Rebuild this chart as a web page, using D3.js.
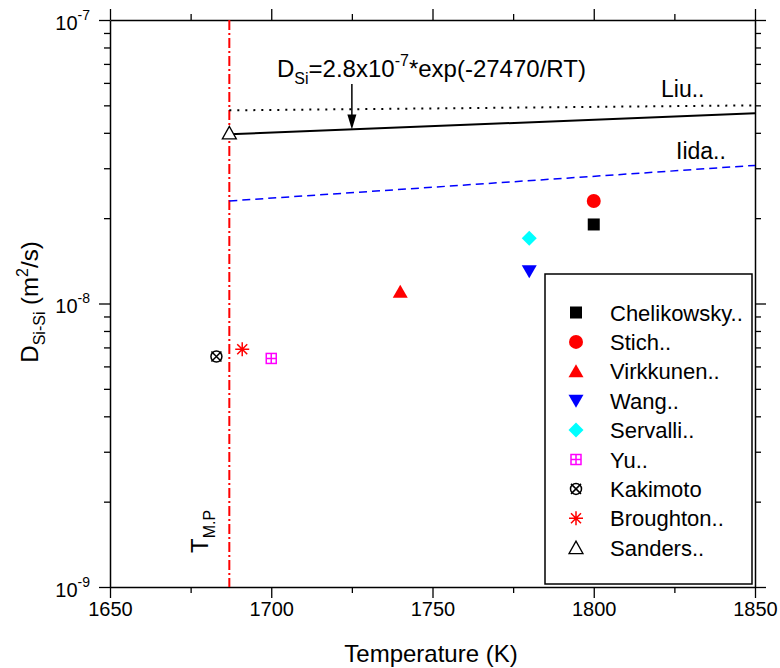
<!DOCTYPE html>
<html><head><meta charset="utf-8">
<script src="https://cdn.jsdelivr.net/npm/d3@7"></script>
<style>body{margin:0;background:#fff;} text{font-family:"Liberation Sans",Arial,sans-serif;}</style>
</head><body>
<svg id="c" width="780" height="668"></svg>
<script>
// ---- data ----
const xTicks = [1650, 1700, 1750, 1800, 1850];
const xMinor = [1675, 1725, 1775, 1825];
const yTicks = [1e-9, 1e-8, 1e-7];
const yTickExp = ["-9", "-8", "-7"];
const seriesNames = ["Chelikowsky..", "Stich..", "Virkkunen..", "Wang..", "Servalli..", "Yu..", "Kakimoto", "Broughton..", "Sanders.."];
const seriesT = [1800, 1800, 1740, 1780, 1780, 1700, 1683, 1691, 1687];
const seriesD = [1.9e-8, 2.3e-8, 1.1e-8, 1.3e-8, 1.7e-8, 6.4e-9, 6.5e-9, 6.9e-9, 4.0e-8];
const seriesSym = ["square", "circle", "triUp", "triDown", "diamond", "boxPlus", "circleX", "asterisk", "triOpen"];
const seriesColor = ["#000000", "#ff0000", "#ff0000", "#0000ff", "#00ffff", "#ff00ff", "#000000", "#ff0000", "#000000"];
const fitT = [1687, 1850];
const fitD = [3.95e-8, 4.69e-8];      // solid: D=2.8e-7 exp(-27470/RT)
const liuD = [4.8e-8, 5.0e-8];        // dotted
const iidaD = [2.3e-8, 3.07e-8];      // blue dashed
const meltT = 1687;
const arrowT = 1725;

// ---- layout ----
const L = 110, R = 755, T = 20, B = 587;
const svg = d3.select("#c");
const x = d3.scaleLinear().domain([1650, 1850]).range([L, R]);
const y = d3.scaleLog().domain([1e-9, 1e-7]).range([B, T]);

const yMinor = [];
[1e-9, 1e-8].forEach(d => { for (let k = 2; k <= 9; k++) yMinor.push(d * k); });

function axisLines(g) { g.selectAll("path.domain").attr("stroke", "#000").attr("stroke-width", 1.5); g.selectAll("line").attr("stroke", "#000").attr("stroke-width", 1.3); }

// bottom
svg.append("g").attr("transform", `translate(0,${B})`)
  .call(d3.axisBottom(x).tickValues(xTicks).tickSize(11).tickSizeOuter(0).tickPadding(4).tickFormat(d3.format("d")))
  .call(axisLines)
  .call(g => g.selectAll("text").attr("font-size", 20).attr("fill", "#000"));
svg.append("g").attr("transform", `translate(0,${B})`)
  .call(d3.axisBottom(x).tickValues(xMinor).tickSize(6).tickSizeOuter(0).tickFormat(""))
  .call(axisLines).call(g => g.select("path.domain").remove());
// top
svg.append("g").attr("transform", `translate(0,${T})`)
  .call(d3.axisTop(x).tickValues(xTicks).tickSize(11).tickSizeOuter(0).tickFormat(""))
  .call(axisLines);
svg.append("g").attr("transform", `translate(0,${T})`)
  .call(d3.axisTop(x).tickValues(xMinor).tickSize(6).tickSizeOuter(0).tickFormat(""))
  .call(axisLines).call(g => g.select("path.domain").remove());
// left
svg.append("g").attr("transform", `translate(${L},0)`)
  .call(d3.axisLeft(y).tickValues(yTicks).tickSize(11).tickSizeOuter(0).tickFormat(""))
  .call(axisLines);
svg.append("g").attr("transform", `translate(${L},0)`)
  .call(d3.axisLeft(y).tickValues(yMinor).tickSize(6).tickSizeOuter(0).tickFormat(""))
  .call(axisLines).call(g => g.select("path.domain").remove());
// right
svg.append("g").attr("transform", `translate(${R},0)`)
  .call(d3.axisRight(y).tickValues(yTicks).tickSize(11).tickSizeOuter(0).tickFormat(""))
  .call(axisLines);
svg.append("g").attr("transform", `translate(${R},0)`)
  .call(d3.axisRight(y).tickValues(yMinor).tickSize(6).tickSizeOuter(0).tickFormat(""))
  .call(axisLines).call(g => g.select("path.domain").remove());

// y tick labels
yTicks.forEach((v, i) => {
  const t = svg.append("text").attr("x", 90).attr("y", y(v) + 9.5).attr("text-anchor", "end").attr("font-size", 20);
  t.append("tspan").text("10");
  t.append("tspan").attr("dy", -10).attr("font-size", 14).text(yTickExp[i]);
});

// axis titles
svg.append("text").attr("x", 431).attr("y", 662).attr("text-anchor", "middle").attr("font-size", 24).text("Temperature (K)");
const yt = svg.append("text").attr("transform", `translate(38,302) rotate(-90)`).attr("text-anchor", "middle").attr("font-size", 24);
yt.append("tspan").text("D");
yt.append("tspan").attr("dy", 7).attr("font-size", 16).text("Si-Si");
yt.append("tspan").attr("dy", -7).text(" (m");
yt.append("tspan").attr("dy", -10).attr("font-size", 16).text("2");
yt.append("tspan").attr("dy", 10).text("/s)");

// melting point line
svg.append("line").attr("x1", x(meltT)).attr("x2", x(meltT)).attr("y1", T).attr("y2", B)
  .attr("stroke", "#ff0000").attr("stroke-width", 2).attr("stroke-dasharray", "10,3,2,3");
const tm = svg.append("text").attr("transform", `translate(${x(meltT) - 21},553) rotate(-90)`).attr("font-size", 24);
tm.append("tspan").text("T");
tm.append("tspan").attr("dy", 7).attr("font-size", 16).text("M.P");

// lines
const line = d3.line().x(d => x(d[0])).y(d => y(d[1]));
svg.append("path").datum(fitT.map((t, i) => [t, liuD[i]])).attr("d", line).attr("fill", "none")
  .attr("stroke", "#000").attr("stroke-width", 2).attr("stroke-dasharray", "2,6");
svg.append("path").datum(fitT.map((t, i) => [t, fitD[i]])).attr("d", line).attr("fill", "none")
  .attr("stroke", "#000").attr("stroke-width", 2);
svg.append("path").datum(fitT.map((t, i) => [t, iidaD[i]])).attr("d", line).attr("fill", "none")
  .attr("stroke", "#0000ff").attr("stroke-width", 1.5).attr("stroke-dasharray", "8,5");

svg.append("text").attr("x", 661).attr("y", 97).attr("font-size", 23).text("Liu..");
svg.append("text").attr("x", 676).attr("y", 159).attr("font-size", 23).text("Iida..");

// equation + arrow
const eq = svg.append("text").attr("x", 277).attr("y", 77).attr("font-size", 24);
eq.append("tspan").text("D");
eq.append("tspan").attr("dy", 7).attr("font-size", 16).text("Si");
eq.append("tspan").attr("dy", -7).text("=2.8x10");
eq.append("tspan").attr("dy", -11).attr("font-size", 16).text("-7");
eq.append("tspan").attr("dy", 11).text("*exp(-27470/RT)");
const ax = x(arrowT);
const yEnd = y(fitD[0] * Math.pow(fitD[1] / fitD[0], (arrowT - fitT[0]) / (fitT[1] - fitT[0])));
svg.append("line").attr("x1", ax).attr("x2", ax).attr("y1", 84).attr("y2", yEnd - 12).attr("stroke", "#000").attr("stroke-width", 1.5);
svg.append("path").attr("d", `M${ax - 4.5},${yEnd - 15}L${ax + 4.5},${yEnd - 15}L${ax},${yEnd}Z`).attr("fill", "#000");

// symbols
function drawSym(g, sym, cx, cy, col) {
  const s = 6;
  if (sym === "square") g.append("rect").attr("x", cx - s).attr("y", cy - s).attr("width", 2 * s).attr("height", 2 * s).attr("fill", col);
  else if (sym === "circle") g.append("circle").attr("cx", cx).attr("cy", cy).attr("r", 7).attr("fill", col);
  else if (sym === "triUp") g.append("path").attr("d", `M${cx - 7.5},${cy + 6}L${cx + 7.5},${cy + 6}L${cx},${cy - 7}Z`).attr("fill", col);
  else if (sym === "triDown") g.append("path").attr("d", `M${cx - 7.5},${cy - 6}L${cx + 7.5},${cy - 6}L${cx},${cy + 7}Z`).attr("fill", col);
  else if (sym === "diamond") g.append("path").attr("d", `M${cx},${cy - 7.5}L${cx + 7.5},${cy}L${cx},${cy + 7.5}L${cx - 7.5},${cy}Z`).attr("fill", col);
  else if (sym === "boxPlus") {
    g.append("rect").attr("x", cx - 5).attr("y", cy - 5).attr("width", 10).attr("height", 10).attr("fill", "none").attr("stroke", col).attr("stroke-width", 1.5);
    g.append("path").attr("d", `M${cx - 5},${cy}L${cx + 5},${cy}M${cx},${cy - 5}L${cx},${cy + 5}`).attr("stroke", col).attr("stroke-width", 1.5);
  } else if (sym === "circleX") {
    g.append("circle").attr("cx", cx).attr("cy", cy).attr("r", 5.5).attr("fill", "none").attr("stroke", col).attr("stroke-width", 1.5);
    g.append("path").attr("d", `M${cx - 5},${cy - 5}L${cx + 5},${cy + 5}M${cx + 5},${cy - 5}L${cx - 5},${cy + 5}`).attr("stroke", col).attr("stroke-width", 1.5);
  } else if (sym === "asterisk") {
    const r = 7;
    g.append("path").attr("d", `M${cx},${cy - r}L${cx},${cy + r}M${cx - r},${cy}L${cx + r},${cy}M${cx - 5},${cy - 5}L${cx + 5},${cy + 5}M${cx + 5},${cy - 5}L${cx - 5},${cy + 5}`).attr("stroke", col).attr("stroke-width", 1.5);
  } else if (sym === "triOpen") g.append("path").attr("d", `M${cx - 7},${cy + 6}L${cx + 7},${cy + 6}L${cx},${cy - 6.5}Z`).attr("fill", "#fff").attr("stroke", col).attr("stroke-width", 1.3);
}
const gp = svg.append("g");
seriesNames.forEach((n, i) => drawSym(gp, seriesSym[i], x(seriesT[i]), y(seriesD[i]), seriesColor[i]));

// legend
const lg = svg.append("g");
lg.append("rect").attr("x", 545).attr("y", 274).attr("width", 207).attr("height", 310).attr("fill", "#fff").attr("stroke", "#000").attr("stroke-width", 1.5);
seriesNames.forEach((n, i) => {
  const cy = 312.5 + i * 29.4;
  drawSym(lg, seriesSym[i], 576, cy, seriesColor[i]);
  lg.append("text").attr("x", 610).attr("y", cy + 8).attr("font-size", 22).text(n);
});
</script>
</body></html>
